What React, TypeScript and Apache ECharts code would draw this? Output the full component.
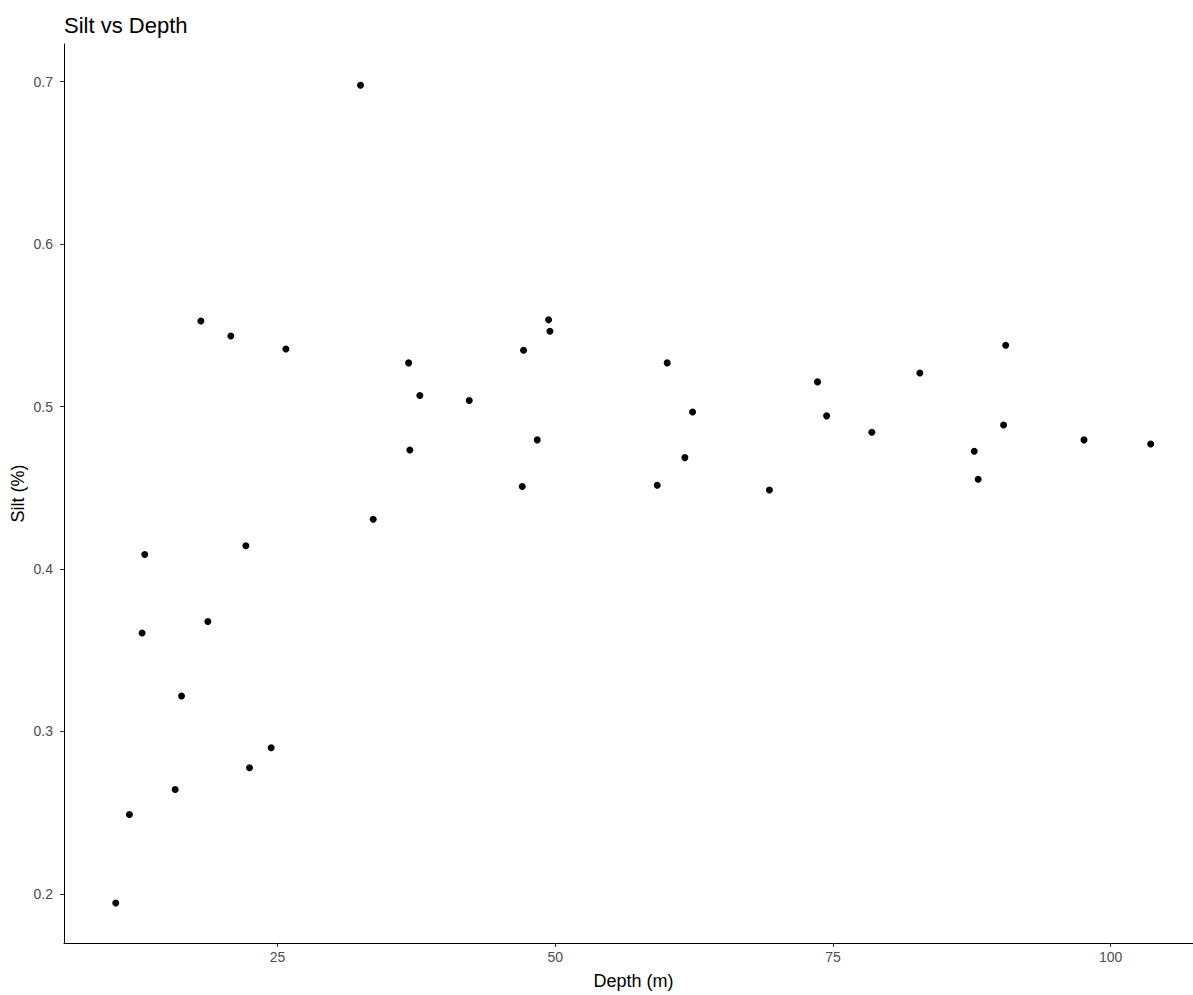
import React, { useEffect, useRef } from "react";
import * as echarts from "echarts";

const depth: number[] = [
  10.44, 11.67, 12.81, 13.05, 15.79, 16.36, 18.10, 18.73, 20.80, 22.15,
  22.48, 24.43, 25.75, 32.47, 33.61, 36.80, 36.91, 37.81, 42.26, 47.03,
  47.15, 48.38, 49.40, 49.52, 59.18, 60.08, 61.67, 62.36, 69.28, 73.61,
  74.43, 78.50, 82.82, 87.72, 88.07, 90.36, 90.55, 97.60, 103.6,
];
const silt: number[] = [
  0.1944, 0.2489, 0.3606, 0.4089, 0.2643, 0.3218, 0.5527, 0.3677, 0.5435, 0.4143,
  0.2777, 0.2900, 0.5355, 0.6978, 0.4307, 0.5269, 0.4733, 0.5068, 0.5037, 0.4508,
  0.5347, 0.4795, 0.5534, 0.5464, 0.4516, 0.5269, 0.4686, 0.4967, 0.4486, 0.5152,
  0.4943, 0.4842, 0.5207, 0.4725, 0.4553, 0.4887, 0.5378, 0.4795, 0.4770,
];
const xTicks: number[] = [25, 50, 75, 100];
const yTicks: number[] = [0.2, 0.3, 0.4, 0.5, 0.6, 0.7];

const FONT = "'Liberation Sans', Arial, sans-serif";

export default function App() {
  const ref = useRef<HTMLDivElement>(null);
  useEffect(() => {
    if (!ref.current) return;
    const chart = echarts.init(ref.current, null, { renderer: "svg" });
    const data = depth.map((d, i) => [d, silt[i]]);
    chart.setOption({
      animation: false,
      backgroundColor: "#ffffff",
      title: {
        text: "Silt vs Depth",
        left: 59,
        top: 9,
        textStyle: { fontFamily: FONT, fontSize: 22, fontWeight: "normal", color: "#000000" },
      },
      grid: {
        left: 64,
        right: 0,
        top: 44,
        bottom: 52,
        containLabel: false,
        outerBoundsMode: "none",
      },
      xAxis: {
        type: "value",
        min: 5.78,
        max: 108.31,
        name: "Depth (m)",
        nameLocation: "middle",
        nameGap: 29,
        nameMoveOverlap: false,
        nameTextStyle: { fontFamily: FONT, fontSize: 18, color: "#000000" },
        splitLine: { show: false },
        axisLine: { show: true, onZero: false, lineStyle: { color: "#000000", width: 1 } },
        axisTick: { show: true, length: 4, lineStyle: { color: "#333333" }, customValues: xTicks },
        axisLabel: {
          margin: 7,
          fontFamily: FONT,
          fontSize: 14,
          color: "#4d4d4d",
          customValues: xTicks,
        },
      },
      yAxis: {
        type: "value",
        min: 0.1698,
        max: 0.7232,
        name: "Silt (%)",
        nameLocation: "middle",
        nameGap: 37,
        nameRotate: 90,
        nameMoveOverlap: false,
        nameTextStyle: { fontFamily: FONT, fontSize: 18, color: "#000000" },
        splitLine: { show: false },
        axisLine: { show: true, onZero: false, lineStyle: { color: "#000000", width: 1 } },
        axisTick: { show: true, length: 4, lineStyle: { color: "#333333" }, customValues: yTicks },
        axisLabel: {
          margin: 11,
          fontFamily: FONT,
          fontSize: 14,
          color: "#4d4d4d",
          customValues: yTicks,
          formatter: (v: number) => v.toFixed(1),
        },
      },
      series: [
        {
          type: "scatter",
          data,
          symbol: "circle",
          symbolSize: 7,
          itemStyle: { color: "#000000", opacity: 1 },
          clip: false,
        },
      ],
    });
    return () => chart.dispose();
  }, []);
  return (
    <div
      style={{
        position: "fixed",
        left: 0,
        top: 0,
        width: 1193,
        height: 995,
        overflow: "hidden",
        background: "#fff",
      }}
    >
      <div ref={ref} style={{ width: 1203, height: 995 }} />
    </div>
  );
}
